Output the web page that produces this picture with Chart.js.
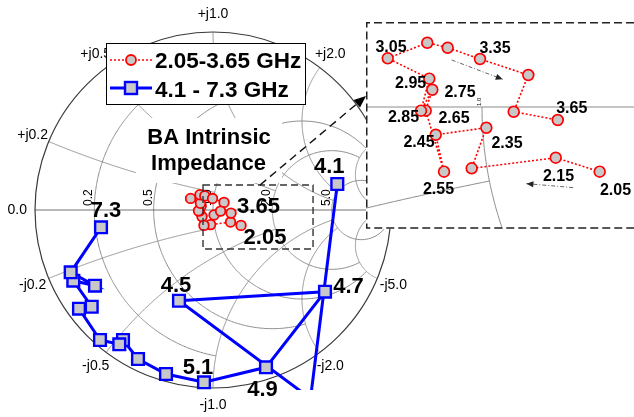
<!DOCTYPE html>
<html>
<head>
<meta charset="utf-8">
<title>BA Intrinsic Impedance</title>
<script src="https://cdn.jsdelivr.net/npm/chart.js@4.4.1/dist/chart.umd.min.js"></script>
<style>
  html, body { margin: 0; padding: 0; background: #fff; }
  #stage { position: relative; width: 634px; height: 417px; overflow: hidden; }
  #smith { position: absolute; left: 0; top: 0; }
  #detail { position: absolute; left: 366px; top: 22px; }
</style>
</head>
<body>
<div id="stage">
  <canvas id="smith" width="634" height="417"></canvas>
  <canvas id="detail" width="268" height="207"></canvas>
</div>
<script>
const FONT = '"Liberation Sans", Arial, Helvetica, sans-serif';

// 2.05-3.65 GHz band: reflection coefficient (real / imaginary part)
const lowFreq = [2.05, 2.15, 2.25, 2.35, 2.45, 2.55, 2.65, 2.75, 2.85, 2.95, 3.05, 3.15, 3.25, 3.35, 3.45, 3.55, 3.65];
const lowRe   = [0.1574, 0.0986, -0.0138, 0.0058, -0.0619, -0.0508, -0.0753, -0.0665, -0.0816, -0.0705, -0.1261, -0.0732, -0.0459, -0.0027, 0.0619, 0.0424, 0.1013];
const lowIm   = [-0.0865, -0.0678, -0.0820, -0.0277, -0.0371, -0.0865, -0.0049, 0.0231, -0.0049, 0.0379, 0.0651, 0.0860, 0.0793, 0.0642, 0.0428, -0.0063, -0.0174];

// 4.1-7.3 GHz band
const highFreq = [4.1, 4.3, 4.5, 4.7, 4.9, 5.1, 5.3, 5.5, 5.7, 5.9, 6.1, 6.3, 6.5, 6.7, 6.9, 7.1, 7.3];
const highRe   = [0.6983, 0.5478, -0.1910, 0.6292, 0.2978, -0.0506, -0.2640, -0.4213, -0.5056, -0.5264, -0.6348, -0.7528, -0.6815, -0.7848, -0.6629, -0.7994, -0.6292];
const highIm   = [0.1461, -1.0590, -0.5096, -0.4590, -0.8837, -0.9680, -0.9213, -0.8371, -0.7303, -0.7545, -0.7303, -0.5545, -0.5433, -0.3972, -0.4253, -0.3500, -0.0972];

// Smith grid: constant-r circles / constant-x arcs, and the value where each stops
const gridValues = [0.2, 0.5, 1, 2, 5];
const gridStops  = [1, 2, 5, 5, 30];

// Frequency tags: pixel offset of the text (centre, baseline) from its marker
const mainTagOffsets = {
  '4.1': [-8, -11], '4.5': [-3, -9], '4.7': [23.5, 1.5], '4.9': [-3.5, 28.5],
  '5.1': [-6, -8], '7.3': [5, -10.5], '3.65': [27.5, -0.5], '2.05': [24, 18.5]
};
const detailTagOffsets = {
  '3.05': [3.3, -6.6], '3.35': [15, -5.7], '2.95': [-18.6, 9.6], '2.75': [27.7, 7.6],
  '2.85': [-17.5, 11], '2.65': [28.3, 12], '3.65': [14, -6.7], '2.45': [-16.7, 12.6],
  '2.35': [20.7, 20.6], '2.55': [-5.5, 22.3], '2.15': [2.8, 23], '2.05': [15.8, 23.3]
};

// Placement of the two views (canvas pixels)
const mainView   = { cx: 213, cy: 210, unit: 178, w: 634, h: 417, clipBottom: 390 };
const detailView = { cx: 116, cy: 85, unit: 747.6, w: 268, h: 207 };

// highlighted region on the main chart (reflection-coefficient units)
const zoomBox = { x0: -0.056, x1: 0.562, y0: 0.1404, y1: -0.2191 };
// sweep-direction arrows in the detail view
const sweepArrows = [
  [[-0.0405, 0.0629], [0.0277, 0.0370]],
  [[0.1219, -0.1078], [0.0594, -0.1025]]
];

const lowPts  = lowRe.map((v, i) => ({ x: v, y: lowIm[i] }));
const highPts = highRe.map((v, i) => ({ x: v, y: highIm[i] }));

// ---------- Smith chart geometry ----------
function gammaOf(r, x) {
  const d = (r + 1) * (r + 1) + x * x;
  return [(r * r - 1 + x * x) / d, (2 * x) / d];
}
function resistancePoints(r, xFrom, xTo) {
  const a = Math.atan(xFrom), b = Math.atan(xTo), n = 320, pts = [];
  for (let i = 0; i <= n; i++) pts.push(gammaOf(r, Math.tan(a + (b - a) * i / n)));
  return pts;
}
function reactancePoints(x, rFrom, rTo) {
  const a = rFrom / (1 + rFrom), b = rTo / (1 + rTo), n = 320, pts = [];
  for (let i = 0; i <= n; i++) { const s = a + (b - a) * i / n; pts.push(gammaOf(s / (1 - s), x)); }
  return pts;
}
function strokePath(ctx, xs, ys, pts) {
  ctx.beginPath();
  pts.forEach((p, i) => {
    const px = xs.getPixelForValue(p[0]), py = ys.getPixelForValue(p[1]);
    if (i) ctx.lineTo(px, py); else ctx.moveTo(px, py);
  });
  ctx.stroke();
}
function arrowHead(ctx, x0, y0, x1, y1, len, half) {
  const a = Math.atan2(y1 - y0, x1 - x0);
  ctx.beginPath();
  ctx.moveTo(x1, y1);
  ctx.lineTo(x1 - len * Math.cos(a) + half * Math.sin(a), y1 - len * Math.sin(a) - half * Math.cos(a));
  ctx.lineTo(x1 - len * Math.cos(a) - half * Math.sin(a), y1 - len * Math.sin(a) + half * Math.cos(a));
  ctx.closePath();
  ctx.fill();
}

// ---------- main chart decorations ----------
const smithPlugin = {
  id: 'smithGrid',
  beforeDatasetsDraw(chart) {
    const { ctx, scales: { x: xs, y: ys } } = chart;
    const cx = xs.getPixelForValue(0), cy = ys.getPixelForValue(0);
    const R = xs.getPixelForValue(1) - cx;
    ctx.save();
    ctx.strokeStyle = '#8c8c8c';
    ctx.lineWidth = 1;
    gridValues.forEach((v, i) => {
      const stop = gridStops[i];
      strokePath(ctx, xs, ys, resistancePoints(v, -stop, stop));
      strokePath(ctx, xs, ys, reactancePoints(v, 0, stop));
      strokePath(ctx, xs, ys, reactancePoints(-v, 0, stop));
    });
    ctx.strokeStyle = '#737373';
    strokePath(ctx, xs, ys, [[-1, 0], [1, 0]]);
    ctx.strokeStyle = '#3a3a3a';
    ctx.lineWidth = 1.2;
    ctx.beginPath();
    ctx.arc(cx, cy, R, 0, 2 * Math.PI);
    ctx.stroke();

    // reactance labels round the rim
    ctx.fillStyle = '#000';
    ctx.font = '14px ' + FONT;
    ctx.textAlign = 'center';
    ctx.textBaseline = 'middle';
    ctx.fillText('0.0', xs.getPixelForValue(-1.1), cy);
    gridValues.forEach(v => {
      [1, -1].forEach(sgn => {
        const g = gammaOf(0, sgn * v);
        ctx.fillText((sgn > 0 ? '+j' : '-j') + v.toFixed(1),
          xs.getPixelForValue(g[0] * 1.098), ys.getPixelForValue(g[1] * 1.098));
      });
    });
    // resistance labels along the real axis
    ctx.font = '12px ' + FONT;
    gridValues.forEach(v => {
      const edge = xs.getPixelForValue((v - 1) / (v + 1));
      ctx.save();
      ctx.translate(edge - 2, cy - 4);
      ctx.rotate(-Math.PI / 2);
      ctx.textAlign = 'left';
      ctx.textBaseline = 'alphabetic';
      ctx.fillText(v.toFixed(1), 0, 0);
      ctx.restore();
    });
    ctx.restore();
  },
  afterDatasetsDraw(chart) {
    const { ctx, scales: { x: xs, y: ys } } = chart;
    ctx.save();

    // title block
    ctx.fillStyle = '#fff';
    ctx.fillRect(136, 118, 146, 65);
    ctx.fillStyle = '#000';
    ctx.font = 'bold 22px ' + FONT;
    ctx.textAlign = 'center';
    ctx.textBaseline = 'alphabetic';
    ctx.fillText('BA Intrinsic', 209, 143.5);
    ctx.fillText('Impedance', 208.5, 170);

    // legend
    ctx.fillStyle = '#fff';
    ctx.fillRect(106, 43, 199, 61);
    ctx.strokeStyle = '#000';
    ctx.lineWidth = 1;
    ctx.strokeRect(106.5, 43.5, 199, 61);
    const ds = chart.data.datasets;
    ctx.strokeStyle = '#ff0000';
    ctx.lineWidth = 1.6;
    ctx.setLineDash([2, 2]);
    ctx.beginPath(); ctx.moveTo(110, 60); ctx.lineTo(152, 60); ctx.stroke();
    ctx.setLineDash([]);
    ctx.beginPath(); ctx.arc(131, 60, 5, 0, 2 * Math.PI);
    ctx.fillStyle = '#c8c8c8'; ctx.fill(); ctx.lineWidth = 1.8; ctx.stroke();
    ctx.strokeStyle = '#0000ff';
    ctx.lineWidth = 3;
    ctx.beginPath(); ctx.moveTo(110, 88); ctx.lineTo(152, 88); ctx.stroke();
    ctx.fillStyle = '#c8c8c8';
    ctx.fillRect(125, 82, 12, 12);
    ctx.lineWidth = 2.4;
    ctx.strokeRect(125, 82, 12, 12);
    ctx.fillStyle = '#000';
    ctx.font = 'bold 22.5px ' + FONT;
    ctx.textAlign = 'left';
    ctx.fillText(ds[0].label, 155, 68.3);
    ctx.fillText(ds[1].label, 155, 96.7);

    // highlighted region and pointer to the detail view
    const bx0 = xs.getPixelForValue(zoomBox.x0), bx1 = xs.getPixelForValue(zoomBox.x1);
    const by0 = ys.getPixelForValue(zoomBox.y0), by1 = ys.getPixelForValue(zoomBox.y1);
    ctx.strokeStyle = '#333';
    ctx.lineWidth = 1.4;
    ctx.setLineDash([7, 4]);
    ctx.strokeRect(bx0, by0, bx1 - bx0, by1 - by0);
    const ax0 = (bx0 + bx1) / 2 + 2, ay0 = by0, ax1 = 366, ay1 = 96;
    ctx.strokeStyle = '#111';
    ctx.setLineDash([8, 5]);
    ctx.beginPath(); ctx.moveTo(ax0, ay0); ctx.lineTo(ax1 - 7, ay1 + 6); ctx.stroke();
    ctx.setLineDash([]);
    ctx.fillStyle = '#000';
    arrowHead(ctx, ax0, ay0, ax1, ay1, 12, 5);

    // frequency tags
    ctx.fillStyle = '#000';
    ctx.font = 'bold 22px ' + FONT;
    ctx.textAlign = 'center';
    ctx.textBaseline = 'alphabetic';
    [[lowFreq, lowPts], [highFreq, highPts]].forEach(([freqs, pts]) => {
      freqs.forEach((f, i) => {
        const off = mainTagOffsets[String(f)];
        if (!off) return;
        ctx.fillText(String(f), xs.getPixelForValue(pts[i].x) + off[0], ys.getPixelForValue(pts[i].y) + off[1]);
      });
    });
    ctx.restore();
  }
};

new Chart(document.getElementById('smith'), {
  type: 'scatter',
  data: {
    datasets: [
      {
        label: '2.05-3.65 GHz', data: lowPts, showLine: true,
        borderColor: '#ff0000', borderWidth: 1.5, borderDash: [2, 2],
        pointStyle: 'circle', pointRadius: 4.8, pointBorderWidth: 1.8,
        pointBorderColor: '#ff0000', pointBackgroundColor: '#c8c8c8', clip: 0
      },
      {
        label: '4.1 - 7.3 GHz', data: highPts, showLine: true,
        borderColor: '#0000ff', borderWidth: 3,
        pointStyle: 'rect', pointRadius: 8.3, pointBorderWidth: 2.4,
        pointBorderColor: '#0000ff', pointBackgroundColor: '#c8c8c8', clip: 0
      }
    ]
  },
  options: {
    responsive: false, animation: false, devicePixelRatio: 1, events: [],
    layout: { autoPadding: false, padding: { left: 0, right: 0, top: 0, bottom: mainView.h - mainView.clipBottom } },
    scales: {
      x: { type: 'linear', display: false, min: -mainView.cx / mainView.unit, max: (mainView.w - mainView.cx) / mainView.unit },
      y: { type: 'linear', display: false, min: -(mainView.clipBottom - mainView.cy) / mainView.unit, max: mainView.cy / mainView.unit }
    },
    plugins: { legend: { display: false }, tooltip: { enabled: false }, title: { display: false } }
  },
  plugins: [smithPlugin]
});

// ---------- detail view of the low band ----------
const detailPlugin = {
  id: 'detailGrid',
  beforeDraw(chart) {
    const { ctx, width, height } = chart;
    ctx.save();
    ctx.fillStyle = '#fff';
    ctx.fillRect(0, 0, width, height);
    ctx.restore();
  },
  beforeDatasetsDraw(chart) {
    const { ctx, scales: { x: xs, y: ys } } = chart;
    ctx.save();
    ctx.strokeStyle = '#8c8c8c';
    ctx.lineWidth = 1;
    strokePath(ctx, xs, ys, [[-1, 0], [1, 0]]);
    strokePath(ctx, xs, ys, resistancePoints(1, -30, 0));
    strokePath(ctx, xs, ys, reactancePoints(-0.2, 0, 1));
    const edge = xs.getPixelForValue(0), cy = ys.getPixelForValue(0);
    ctx.fillStyle = '#000';
    ctx.font = '6px ' + FONT;
    ctx.translate(edge - 1, cy - 1);
    ctx.rotate(-Math.PI / 2);
    ctx.textAlign = 'left';
    ctx.textBaseline = 'alphabetic';
    ctx.fillText('1.0', 0, 0);
    ctx.restore();
  },
  afterDatasetsDraw(chart) {
    const { ctx, width, height, scales: { x: xs, y: ys } } = chart;
    ctx.save();
    // sweep direction arrows
    ctx.strokeStyle = '#555';
    ctx.fillStyle = '#222';
    ctx.lineWidth = 0.9;
    sweepArrows.forEach(([a, b]) => {
      const x0 = xs.getPixelForValue(a[0]), y0 = ys.getPixelForValue(a[1]);
      const x1 = xs.getPixelForValue(b[0]), y1 = ys.getPixelForValue(b[1]);
      ctx.setLineDash([4, 2, 1, 2]);
      ctx.beginPath(); ctx.moveTo(x0, y0); ctx.lineTo(x1, y1); ctx.stroke();
      ctx.setLineDash([]);
      arrowHead(ctx, x0, y0, x1, y1, 7, 3);
    });
    // frequency tags
    ctx.fillStyle = '#000';
    ctx.font = 'bold 16px ' + FONT;
    ctx.textAlign = 'center';
    ctx.textBaseline = 'alphabetic';
    lowFreq.forEach((f, i) => {
      const off = detailTagOffsets[String(f)];
      if (!off) return;
      ctx.fillText(String(f), xs.getPixelForValue(lowPts[i].x) + off[0], ys.getPixelForValue(lowPts[i].y) + off[1]);
    });
    // dashed frame
    ctx.strokeStyle = '#222';
    ctx.lineWidth = 1.5;
    ctx.setLineDash([8, 4]);
    ctx.beginPath();
    ctx.moveTo(width, 0.75); ctx.lineTo(0.75, 0.75); ctx.lineTo(0.75, height - 1); ctx.lineTo(width, height - 1);
    ctx.stroke();
    ctx.restore();
  }
};

new Chart(document.getElementById('detail'), {
  type: 'scatter',
  data: {
    datasets: [{
      label: '2.05-3.65 GHz', data: lowPts, showLine: true,
      borderColor: '#ff0000', borderWidth: 1.6, borderDash: [2, 2],
      pointStyle: 'circle', pointRadius: 5.4, pointBorderWidth: 1.7,
      pointBorderColor: '#ff0000', pointBackgroundColor: '#c8c8c8', clip: 0
    }]
  },
  options: {
    responsive: false, animation: false, devicePixelRatio: 1, events: [],
    layout: { autoPadding: false, padding: 0 },
    scales: {
      x: { type: 'linear', display: false, min: -detailView.cx / detailView.unit, max: (detailView.w - detailView.cx) / detailView.unit },
      y: { type: 'linear', display: false, min: -(detailView.h - detailView.cy) / detailView.unit, max: detailView.cy / detailView.unit }
    },
    plugins: { legend: { display: false }, tooltip: { enabled: false }, title: { display: false } }
  },
  plugins: [detailPlugin]
});
</script>
</body>
</html>
